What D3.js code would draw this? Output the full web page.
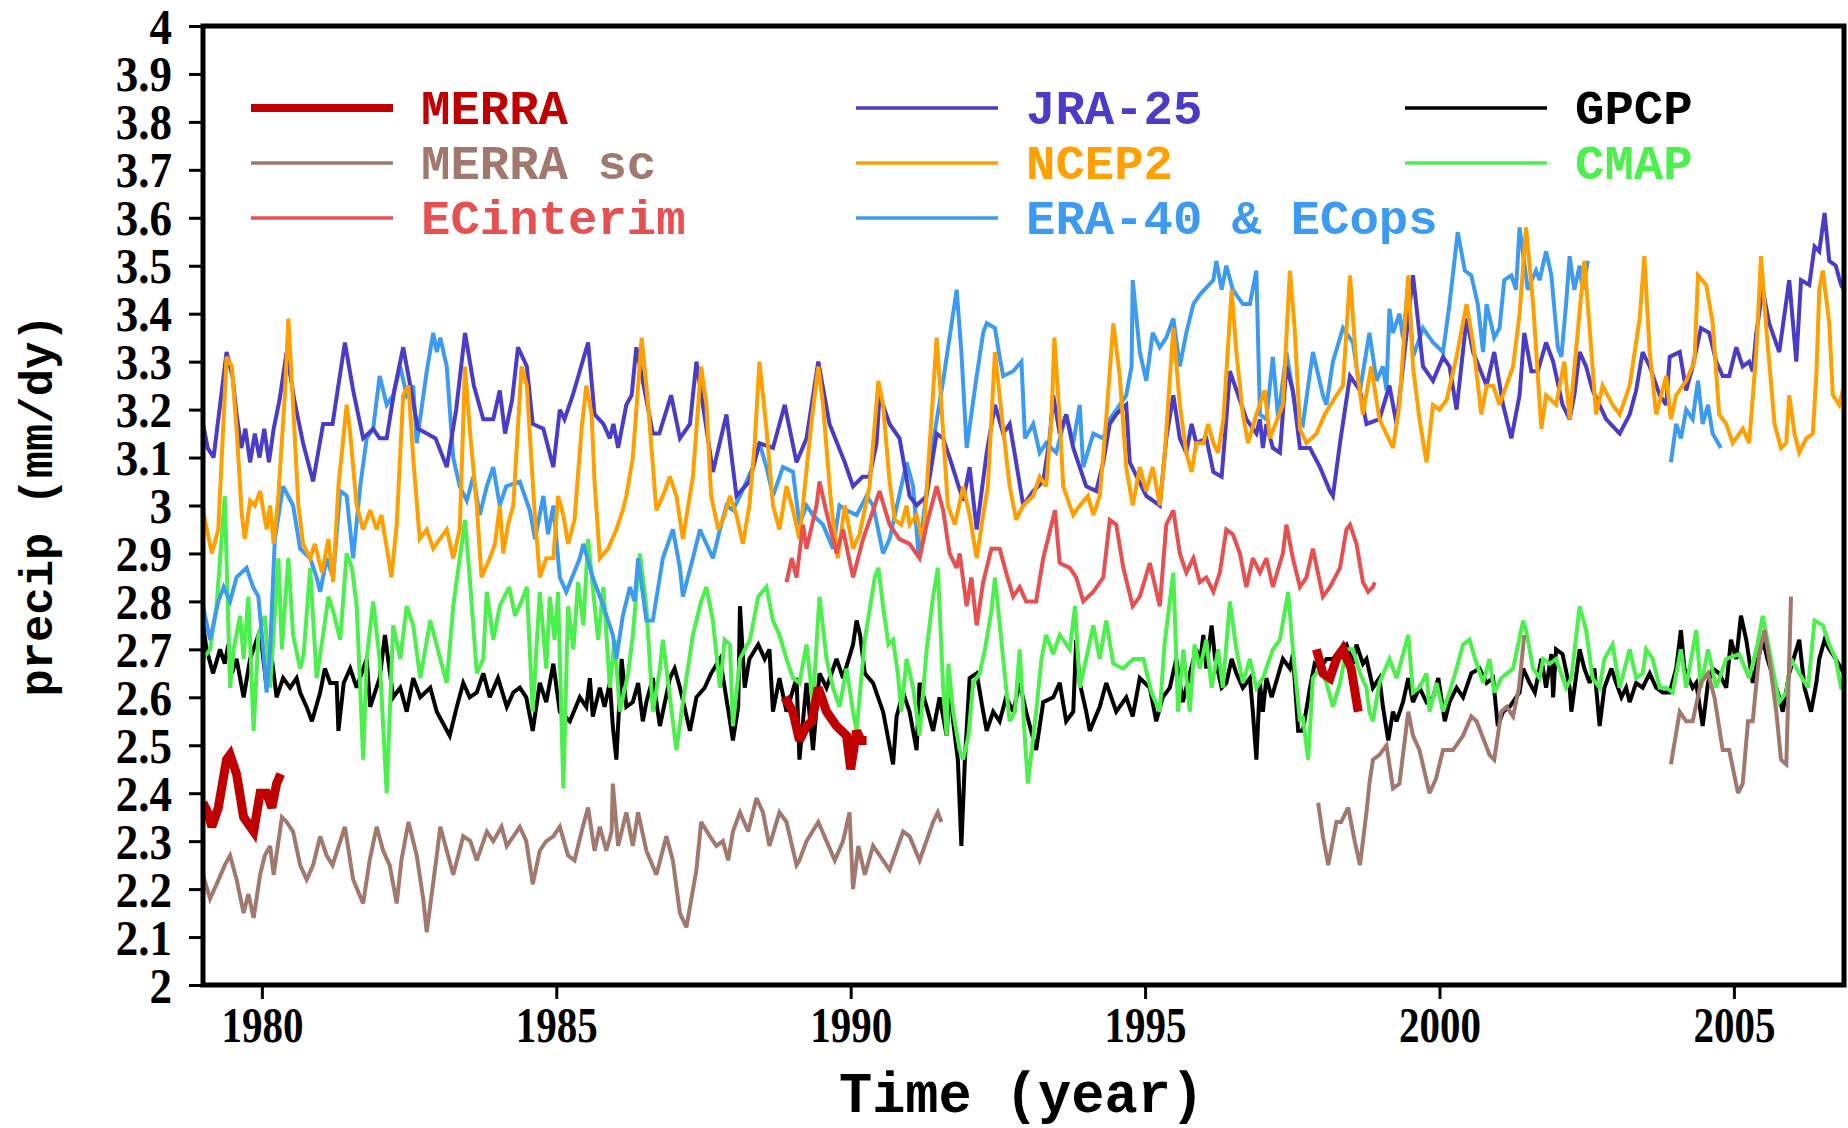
<!DOCTYPE html>
<html>
<head>
<meta charset="utf-8">
<script src="https://cdn.jsdelivr.net/npm/d3@7"></script>
<style>
  body { margin: 0; background: #fff; }
  svg { display: block; }
</style>
</head>
<body>
<div id="chart"></div>
<script>
// monthly global precip series, [year, mm/day]; null value = gap between segments
var merra = [[1979.00,2.38],[1979.08,2.36],[1979.15,2.33],[1979.26,2.37],[1979.40,2.47],[1979.46,2.48],[1979.57,2.44],[1979.69,2.35],[1979.86,2.32],[1979.97,2.40],[1980.08,2.40],[1980.17,2.37],[1980.25,2.42],[1980.32,2.44],
  [1984,null],
  [1988.88,2.60],[1989.02,2.57],[1989.13,2.51],[1989.25,2.54],[1989.34,2.55],[1989.45,2.62],[1989.59,2.57],[1989.76,2.54],[1989.93,2.52],[1990.00,2.45],[1990.10,2.53],[1990.18,2.51],[1990.27,2.51],
  [1994,null],
  [1997.91,2.70],[1998.02,2.65],[1998.14,2.64],[1998.25,2.68],[1998.36,2.70],[1998.50,2.66],[1998.62,2.57]];

var merraSc = [[1979.00,2.23],[1979.12,2.18],[1979.23,2.21],[1979.37,2.25],[1979.46,2.27],[1979.57,2.22],[1979.69,2.15],[1979.77,2.19],[1979.86,2.14],[1979.97,2.23],[1980.05,2.27],[1980.14,2.29],[1980.20,2.23],[1980.34,2.35],[1980.42,2.34],[1980.53,2.32],[1980.65,2.25],[1980.76,2.22],[1980.87,2.25],[1980.99,2.31],[1981.10,2.27],[1981.20,2.25],[1981.41,2.33],[1981.55,2.22],[1981.72,2.17],[1981.83,2.26],[1981.95,2.33],[1982.06,2.28],[1982.17,2.25],[1982.29,2.17],[1982.37,2.26],[1982.49,2.34],[1982.63,2.27],[1982.74,2.18],[1982.80,2.11],[1982.97,2.27],[1983.03,2.33],[1983.14,2.28],[1983.25,2.23],[1983.42,2.31],[1983.54,2.30],[1983.65,2.26],[1983.82,2.32],[1983.93,2.30],[1984.07,2.33],[1984.16,2.29],[1984.38,2.33],[1984.49,2.30],[1984.60,2.21],[1984.72,2.28],[1984.83,2.30],[1984.95,2.31],[1985.06,2.33],[1985.20,2.27],[1985.31,2.26],[1985.43,2.32],[1985.54,2.37],[1985.65,2.28],[1985.74,2.33],[1985.85,2.28],[1985.94,2.32],[1985.96,2.42],[1986.05,2.29],[1986.19,2.36],[1986.30,2.29],[1986.39,2.36],[1986.53,2.28],[1986.70,2.23],[1986.87,2.31],[1986.98,2.26],[1987.10,2.15],[1987.21,2.12],[1987.38,2.24],[1987.46,2.34],[1987.61,2.31],[1987.72,2.29],[1987.83,2.30],[1987.92,2.26],[1988.00,2.32],[1988.12,2.36],[1988.26,2.32],[1988.40,2.39],[1988.51,2.36],[1988.62,2.29],[1988.79,2.36],[1988.91,2.34],[1989.08,2.25],[1989.13,2.26],[1989.25,2.30],[1989.45,2.34],[1989.59,2.30],[1989.73,2.26],[1989.87,2.30],[1989.98,2.36],[1990.04,2.20],[1990.13,2.29],[1990.24,2.23],[1990.38,2.29],[1990.55,2.26],[1990.66,2.24],[1990.89,2.32],[1991.00,2.31],[1991.17,2.26],[1991.40,2.34],[1991.48,2.36],[1991.54,2.34],
  [1995,null],
  [1997.94,2.38],[1998.02,2.31],[1998.11,2.25],[1998.25,2.34],[1998.33,2.34],[1998.45,2.37],[1998.56,2.30],[1998.65,2.25],[1998.76,2.36],[1998.81,2.42],[1998.87,2.47],[1998.98,2.48],[1999.10,2.50],[1999.21,2.41],[1999.32,2.42],[1999.47,2.57],[1999.55,2.52],[1999.66,2.49],[1999.83,2.40],[1999.94,2.43],[2000.06,2.49],[2000.23,2.49],[2000.40,2.52],[2000.54,2.56],[2000.63,2.55],[2000.85,2.48],[2000.93,2.47],[2001.05,2.57],[2001.14,2.58],[2001.25,2.56],[2001.35,2.62],[2001.44,2.73],
  [2003,null],
  [2003.93,2.46],[2004.08,2.57],[2004.19,2.55],[2004.30,2.55],[2004.44,2.63],[2004.56,2.65],[2004.67,2.60],[2004.81,2.49],[2004.92,2.49],[2005.07,2.40],[2005.15,2.42],[2005.24,2.55],[2005.32,2.55],[2005.43,2.69],[2005.52,2.74],[2005.60,2.68],[2005.72,2.57],[2005.80,2.47],[2005.89,2.46],[2005.97,2.81]];

var ecInterim = [[1988.91,2.84],[1989.00,2.89],[1989.08,2.85],[1989.19,2.96],[1989.25,2.91],[1989.42,3.00],[1989.47,3.05],[1989.58,2.99],[1989.76,2.90],[1989.87,2.95],[1990.04,2.85],[1990.21,2.93],[1990.38,2.99],[1990.49,3.03],[1990.66,2.96],[1990.83,2.93],[1991.00,2.92],[1991.17,2.89],[1991.29,2.96],[1991.46,3.04],[1991.57,2.99],[1991.68,2.90],[1991.80,2.87],[1991.85,2.90],[1991.97,2.79],[1992.05,2.85],[1992.14,2.75],[1992.25,2.84],[1992.39,2.91],[1992.53,2.91],[1992.64,2.86],[1992.76,2.81],[1992.87,2.83],[1992.98,2.80],[1993.15,2.80],[1993.27,2.89],[1993.47,2.99],[1993.55,2.88],[1993.72,2.87],[1993.83,2.85],[1993.95,2.80],[1994.12,2.82],[1994.29,2.85],[1994.40,2.97],[1994.51,2.96],[1994.63,2.87],[1994.79,2.79],[1994.91,2.81],[1995.08,2.88],[1995.25,2.79],[1995.36,2.96],[1995.48,2.99],[1995.59,2.90],[1995.70,2.86],[1995.82,2.89],[1995.93,2.84],[1996.04,2.85],[1996.16,2.82],[1996.27,2.86],[1996.38,2.95],[1996.49,2.94],[1996.61,2.90],[1996.72,2.83],[1996.83,2.89],[1996.95,2.86],[1997.06,2.89],[1997.17,2.83],[1997.34,2.90],[1997.40,2.96],[1997.51,2.89],[1997.63,2.83],[1997.74,2.85],[1997.85,2.91],[1998.02,2.81],[1998.14,2.83],[1998.31,2.87],[1998.42,2.95],[1998.48,2.96],[1998.59,2.92],[1998.70,2.84],[1998.79,2.82],[1998.87,2.83],[1998.90,2.84]];

var jra25 = [[1979.00,3.17],[1979.08,3.12],[1979.18,3.10],[1979.30,3.22],[1979.40,3.32],[1979.50,3.27],[1979.57,3.19],[1979.65,3.12],[1979.72,3.16],[1979.80,3.09],[1979.88,3.15],[1979.96,3.10],[1980.04,3.16],[1980.12,3.09],[1980.20,3.16],[1980.30,3.22],[1980.42,3.32],[1980.55,3.22],[1980.70,3.13],[1980.87,3.05],[1981.04,3.17],[1981.20,3.17],[1981.41,3.34],[1981.55,3.24],[1981.72,3.14],[1981.89,3.16],[1982.00,3.14],[1982.12,3.14],[1982.25,3.24],[1982.40,3.33],[1982.52,3.25],[1982.65,3.16],[1982.80,3.15],[1982.95,3.14],[1983.14,3.08],[1983.30,3.20],[1983.45,3.36],[1983.60,3.25],[1983.76,3.18],[1983.93,3.18],[1984.04,3.24],[1984.13,3.15],[1984.25,3.22],[1984.35,3.33],[1984.50,3.29],[1984.60,3.17],[1984.78,3.16],[1984.95,3.08],[1985.06,3.20],[1985.14,3.18],[1985.28,3.23],[1985.54,3.34],[1985.65,3.19],[1985.80,3.17],[1985.91,3.14],[1985.97,3.17],[1986.05,3.12],[1986.19,3.21],[1986.28,3.23],[1986.36,3.33],[1986.64,3.15],[1986.75,3.15],[1986.95,3.23],[1987.10,3.14],[1987.27,3.17],[1987.38,3.30],[1987.66,3.07],[1987.89,3.19],[1988.06,3.02],[1988.28,3.05],[1988.45,3.13],[1988.68,3.12],[1988.88,3.21],[1989.08,3.09],[1989.25,3.14],[1989.45,3.30],[1989.64,3.17],[1989.90,3.09],[1990.04,3.04],[1990.20,3.06],[1990.32,3.06],[1990.44,3.13],[1990.49,3.23],[1990.66,3.17],[1990.83,3.14],[1991.00,3.02],[1991.12,3.00],[1991.29,3.02],[1991.46,3.15],[1991.57,3.14],[1991.68,3.10],[1991.91,3.01],[1992.02,3.08],[1992.14,2.95],[1992.31,3.11],[1992.45,3.21],[1992.59,3.15],[1992.70,3.17],[1992.81,3.09],[1992.93,3.00],[1993.10,3.03],[1993.27,3.05],[1993.38,3.14],[1993.44,3.23],[1993.55,3.15],[1993.66,3.19],[1993.78,3.12],[1994.00,3.04],[1994.17,3.03],[1994.29,3.09],[1994.40,3.17],[1994.51,3.19],[1994.68,3.21],[1994.74,3.09],[1995.02,3.02],[1995.25,3.00],[1995.36,3.14],[1995.48,3.23],[1995.59,3.14],[1995.70,3.11],[1995.79,3.17],[1995.87,3.13],[1996.04,3.14],[1996.16,3.07],[1996.30,3.06],[1996.38,3.18],[1996.44,3.28],[1996.61,3.22],[1996.72,3.18],[1996.89,3.15],[1996.95,3.18],[1997.00,3.12],[1997.06,3.17],[1997.17,3.12],[1997.29,3.11],[1997.40,3.29],[1997.51,3.24],[1997.63,3.12],[1997.80,3.12],[1997.97,3.08],[1998.14,3.03],[1998.19,3.02],[1998.31,3.13],[1998.48,3.27],[1998.65,3.24],[1998.76,3.17],[1998.98,3.18],[1999.15,3.25],[1999.27,3.17],[1999.38,3.29],[1999.55,3.48],[1999.72,3.29],[1999.89,3.26],[2000.06,3.31],[2000.17,3.29],[2000.29,3.20],[2000.46,3.39],[2000.57,3.32],[2000.80,3.25],[2000.93,3.32],[2001.08,3.21],[2001.22,3.14],[2001.36,3.23],[2001.44,3.36],[2001.56,3.28],[2001.67,3.28],[2001.81,3.34],[2001.93,3.30],[2002.09,3.21],[2002.21,3.18],[2002.29,3.23],[2002.38,3.32],[2002.49,3.29],[2002.60,3.24],[2002.83,3.18],[2003.06,3.15],[2003.23,3.19],[2003.34,3.24],[2003.45,3.32],[2003.57,3.29],[2003.74,3.23],[2003.85,3.21],[2003.91,3.31],[2004.08,3.32],[2004.19,3.24],[2004.30,3.29],[2004.44,3.37],[2004.58,3.36],[2004.70,3.30],[2004.81,3.27],[2004.92,3.27],[2005.04,3.33],[2005.15,3.29],[2005.26,3.30],[2005.32,3.28],[2005.38,3.36],[2005.49,3.45],[2005.60,3.38],[2005.77,3.32],[2005.94,3.47],[2006.06,3.30],[2006.14,3.47],[2006.28,3.46],[2006.37,3.54],[2006.45,3.53],[2006.54,3.61],[2006.62,3.51],[2006.73,3.50],[2006.82,3.46],[2006.87,3.45]];

var ncep2 = [[1979.00,2.99],[1979.15,2.90],[1979.26,2.95],[1979.40,3.31],[1979.49,3.29],[1979.57,3.16],[1979.66,2.98],[1979.71,2.93],[1979.80,3.01],[1979.88,3.00],[1979.97,3.03],[1980.08,2.95],[1980.14,3.00],[1980.20,2.92],[1980.28,3.02],[1980.39,3.23],[1980.45,3.39],[1980.53,3.21],[1980.62,3.00],[1980.70,2.92],[1980.82,2.89],[1980.90,2.92],[1980.96,2.89],[1981.02,2.86],[1981.13,2.93],[1981.21,2.84],[1981.30,3.04],[1981.44,3.21],[1981.50,3.15],[1981.61,3.00],[1981.72,2.95],[1981.84,2.99],[1981.95,2.95],[1982.03,2.98],[1982.15,2.89],[1982.20,2.85],[1982.29,2.96],[1982.40,3.23],[1982.49,3.25],[1982.57,3.10],[1982.68,2.93],[1982.80,2.95],[1982.91,2.91],[1983.02,2.93],[1983.14,2.95],[1983.25,2.89],[1983.36,2.95],[1983.45,3.29],[1983.53,3.16],[1983.65,3.00],[1983.73,2.85],[1983.87,2.89],[1983.96,2.92],[1984.04,3.00],[1984.10,2.90],[1984.18,2.96],[1984.27,3.00],[1984.41,3.29],[1984.50,3.25],[1984.63,2.99],[1984.72,2.85],[1984.83,2.89],[1984.95,2.89],[1985.03,3.02],[1985.12,2.98],[1985.20,2.92],[1985.31,2.97],[1985.43,3.16],[1985.51,3.25],[1985.60,3.19],[1985.65,3.05],[1985.74,2.89],[1985.88,2.91],[1986.02,2.95],[1986.13,2.99],[1986.19,3.02],[1986.30,3.10],[1986.45,3.35],[1986.56,3.21],[1986.70,2.99],[1986.81,3.02],[1986.93,3.06],[1987.04,3.02],[1987.15,2.93],[1987.32,3.06],[1987.46,3.29],[1987.55,3.21],[1987.63,3.02],[1987.75,2.95],[1987.86,2.98],[1987.95,3.02],[1988.06,2.98],[1988.17,2.92],[1988.28,3.00],[1988.37,3.13],[1988.45,3.30],[1988.57,3.16],[1988.68,3.00],[1988.79,2.95],[1988.91,3.04],[1989.02,2.99],[1989.13,2.93],[1989.33,3.17],[1989.45,3.29],[1989.53,3.21],[1989.67,3.00],[1989.78,2.89],[1989.90,3.00],[1990.04,2.91],[1990.15,2.94],[1990.32,3.04],[1990.47,3.26],[1990.55,3.21],[1990.66,3.05],[1990.75,2.97],[1990.86,2.96],[1990.95,3.00],[1991.00,2.96],[1991.12,2.98],[1991.23,2.92],[1991.37,3.18],[1991.46,3.35],[1991.54,3.21],[1991.65,3.00],[1991.77,2.96],[1991.91,3.04],[1992.02,2.98],[1992.14,2.89],[1992.25,2.98],[1992.33,3.04],[1992.45,3.32],[1992.59,3.16],[1992.70,3.04],[1992.81,2.97],[1992.93,3.00],[1993.10,3.02],[1993.21,3.06],[1993.32,3.04],[1993.41,3.18],[1993.46,3.35],[1993.55,3.18],[1993.61,3.04],[1993.78,2.98],[1993.89,3.00],[1994.03,3.02],[1994.12,2.98],[1994.23,3.02],[1994.34,3.18],[1994.46,3.38],[1994.57,3.27],[1994.68,3.08],[1994.79,3.00],[1994.91,3.08],[1995.02,3.03],[1995.13,3.08],[1995.25,3.00],[1995.33,3.10],[1995.48,3.37],[1995.59,3.21],[1995.70,3.11],[1995.79,3.07],[1995.87,3.13],[1995.99,3.13],[1996.07,3.17],[1996.16,3.13],[1996.24,3.11],[1996.33,3.18],[1996.47,3.45],[1996.55,3.32],[1996.66,3.19],[1996.75,3.13],[1996.89,3.19],[1997.03,3.24],[1997.12,3.14],[1997.34,3.21],[1997.46,3.49],[1997.54,3.37],[1997.63,3.16],[1997.74,3.13],[1997.91,3.15],[1998.05,3.19],[1998.25,3.23],[1998.36,3.25],[1998.48,3.48],[1998.59,3.29],[1998.70,3.19],[1998.84,3.29],[1998.98,3.18],[1999.21,3.12],[1999.32,3.21],[1999.47,3.48],[1999.55,3.29],[1999.66,3.18],[1999.78,3.09],[1999.89,3.21],[2000.00,3.20],[2000.12,3.22],[2000.29,3.31],[2000.46,3.42],[2000.57,3.34],[2000.71,3.19],[2000.80,3.25],[2000.91,3.25],[2001.02,3.21],[2001.25,3.29],[2001.36,3.40],[2001.47,3.58],[2001.59,3.42],[2001.73,3.16],[2001.81,3.23],[2001.98,3.21],[2002.12,3.30],[2002.21,3.18],[2002.46,3.51],[2002.55,3.37],[2002.66,3.19],[2002.77,3.25],[2002.94,3.21],[2003.06,3.19],[2003.23,3.25],[2003.40,3.39],[2003.48,3.52],[2003.57,3.32],[2003.68,3.19],[2003.85,3.27],[2003.93,3.18],[2004.02,3.23],[2004.19,3.26],[2004.33,3.30],[2004.39,3.48],[2004.53,3.46],[2004.64,3.38],[2004.75,3.19],[2004.87,3.17],[2004.98,3.13],[2005.15,3.16],[2005.26,3.13],[2005.38,3.32],[2005.46,3.52],[2005.55,3.37],[2005.69,3.17],[2005.80,3.12],[2005.89,3.13],[2005.94,3.23],[2006.03,3.15],[2006.11,3.11],[2006.23,3.14],[2006.34,3.15],[2006.40,3.27],[2006.45,3.45],[2006.51,3.49],[2006.62,3.38],[2006.68,3.23],[2006.79,3.21],[2006.87,3.25]];

var era40 = [[1979.00,2.79],[1979.12,2.72],[1979.26,2.80],[1979.35,2.83],[1979.46,2.80],[1979.57,2.85],[1979.74,2.87],[1979.85,2.83],[1979.94,2.81],[1980.03,2.69],[1980.08,2.61],[1980.14,2.70],[1980.22,2.93],[1980.36,3.04],[1980.53,3.00],[1980.65,2.91],[1980.82,2.89],[1980.93,2.85],[1980.99,2.82],[1981.10,2.89],[1981.21,2.85],[1981.33,3.03],[1981.44,3.02],[1981.55,2.89],[1981.67,3.04],[1981.78,3.14],[1981.89,3.16],[1982.00,3.27],[1982.12,3.21],[1982.23,3.23],[1982.35,3.29],[1982.46,3.23],[1982.57,3.25],[1982.63,3.13],[1982.80,3.28],[1982.91,3.36],[1982.97,3.32],[1983.03,3.35],[1983.14,3.29],[1983.25,3.10],[1983.36,3.04],[1983.48,3.01],[1983.59,3.06],[1983.70,2.98],[1983.82,3.04],[1983.93,3.08],[1984.04,3.00],[1984.15,3.04],[1984.38,3.05],[1984.55,2.99],[1984.64,2.93],[1984.78,3.02],[1984.86,2.94],[1984.95,3.00],[1985.06,2.85],[1985.17,2.82],[1985.40,2.89],[1985.46,2.92],[1985.62,2.85],[1985.80,2.79],[1985.96,2.73],[1986.02,2.68],[1986.13,2.77],[1986.25,2.83],[1986.33,2.80],[1986.39,2.89],[1986.53,2.76],[1986.64,2.76],[1986.81,2.89],[1986.98,2.95],[1987.10,2.87],[1987.15,2.81],[1987.32,2.89],[1987.44,2.95],[1987.66,2.89],[1987.78,2.95],[1987.89,3.00],[1988.00,2.99],[1988.12,3.02],[1988.34,3.08],[1988.45,3.13],[1988.57,3.08],[1988.68,3.02],[1988.85,3.08],[1989.02,3.07],[1989.13,2.96],[1989.25,3.00],[1989.36,2.98],[1989.53,2.96],[1989.70,2.91],[1989.81,3.00],[1989.93,2.99],[1990.10,2.98],[1990.27,3.02],[1990.38,3.00],[1990.55,2.90],[1990.66,2.93],[1990.95,3.09],[1991.06,3.04],[1991.15,2.90],[1991.23,2.97],[1991.37,3.11],[1991.57,3.26],[1991.80,3.45],[1991.88,3.32],[1991.97,3.12],[1992.14,3.27],[1992.25,3.36],[1992.31,3.38],[1992.45,3.37],[1992.53,3.31],[1992.59,3.27],[1992.76,3.28],[1992.90,3.30],[1992.96,3.14],[1993.10,3.17],[1993.21,3.11],[1993.32,3.13],[1993.49,3.11],[1993.66,3.19],[1993.78,3.13],[1993.89,3.21],[1993.95,3.08],[1994.12,3.15],[1994.29,3.14],[1994.40,3.18],[1994.57,3.21],[1994.68,3.23],[1994.77,3.29],[1994.79,3.47],[1994.91,3.32],[1995.02,3.26],[1995.13,3.36],[1995.25,3.33],[1995.36,3.35],[1995.48,3.39],[1995.59,3.29],[1995.70,3.36],[1995.82,3.42],[1995.93,3.44],[1996.16,3.47],[1996.21,3.51],[1996.30,3.45],[1996.38,3.50],[1996.49,3.45],[1996.66,3.42],[1996.78,3.42],[1996.89,3.49],[1996.95,3.19],[1997.06,3.18],[1997.17,3.31],[1997.26,3.18],[1997.40,3.32],[1997.57,3.19],[1997.68,3.17],[1997.85,3.32],[1998.02,3.23],[1998.08,3.21],[1998.19,3.30],[1998.36,3.37],[1998.53,3.34],[1998.65,3.24],[1998.81,3.36],[1998.93,3.26],[1999.04,3.29],[1999.10,3.24],[1999.15,3.41],[1999.21,3.36],[1999.32,3.40],[1999.38,3.35],[1999.47,3.46],[1999.55,3.31],[1999.72,3.37],[1999.89,3.34],[2000.06,3.32],[2000.17,3.42],[2000.31,3.57],[2000.43,3.49],[2000.54,3.48],[2000.65,3.42],[2000.74,3.32],[2000.80,3.42],[2000.93,3.35],[2001.02,3.37],[2001.10,3.47],[2001.22,3.48],[2001.30,3.45],[2001.36,3.58],[2001.50,3.45],[2001.64,3.49],[2001.70,3.47],[2001.81,3.53],[2001.90,3.48],[2002.01,3.33],[2002.07,3.31],[2002.15,3.42],[2002.21,3.52],[2002.29,3.45],[2002.38,3.50],[2002.43,3.45],[2002.52,3.51],
  [2003,null],
  [2003.93,3.09],[2004.02,3.17],[2004.10,3.14],[2004.19,3.20],[2004.30,3.18],[2004.39,3.26],[2004.47,3.17],[2004.56,3.21],[2004.64,3.15],[2004.78,3.12]];

var gpcp = [[1979.00,2.75],[1979.06,2.70],[1979.17,2.65],[1979.29,2.70],[1979.37,2.67],[1979.43,2.71],[1979.49,2.65],[1979.57,2.68],[1979.69,2.60],[1979.80,2.68],[1979.97,2.74],[1980.08,2.62],[1980.17,2.68],[1980.25,2.60],[1980.36,2.64],[1980.48,2.62],[1980.59,2.64],[1980.65,2.61],[1980.76,2.58],[1980.85,2.55],[1980.99,2.61],[1981.07,2.66],[1981.16,2.63],[1981.27,2.63],[1981.30,2.53],[1981.39,2.63],[1981.50,2.66],[1981.61,2.62],[1981.78,2.68],[1981.84,2.58],[1982.00,2.64],[1982.09,2.73],[1982.23,2.60],[1982.35,2.62],[1982.46,2.57],[1982.57,2.64],[1982.69,2.60],[1982.86,2.62],[1982.97,2.57],[1983.19,2.52],[1983.31,2.58],[1983.42,2.63],[1983.53,2.60],[1983.65,2.61],[1983.76,2.65],[1983.87,2.60],[1984.01,2.64],[1984.16,2.58],[1984.27,2.61],[1984.38,2.62],[1984.49,2.60],[1984.60,2.53],[1984.72,2.63],[1984.83,2.59],[1984.95,2.67],[1985.06,2.57],[1985.23,2.55],[1985.40,2.60],[1985.51,2.58],[1985.57,2.64],[1985.62,2.56],[1985.74,2.62],[1985.82,2.58],[1985.91,2.63],[1985.96,2.54],[1986.02,2.47],[1986.11,2.68],[1986.19,2.58],[1986.30,2.59],[1986.39,2.63],[1986.47,2.55],[1986.53,2.59],[1986.64,2.64],[1986.76,2.54],[1986.93,2.64],[1987.01,2.66],[1987.10,2.62],[1987.27,2.53],[1987.38,2.60],[1987.52,2.62],[1987.63,2.65],[1987.78,2.68],[1987.86,2.62],[1987.95,2.55],[1988.00,2.51],[1988.09,2.58],[1988.12,2.79],[1988.20,2.62],[1988.28,2.68],[1988.43,2.71],[1988.54,2.68],[1988.62,2.70],[1988.68,2.57],[1988.79,2.64],[1988.91,2.57],[1989.08,2.64],[1989.13,2.47],[1989.25,2.63],[1989.36,2.49],[1989.47,2.65],[1989.59,2.62],[1989.76,2.68],[1989.87,2.64],[1990.04,2.71],[1990.10,2.76],[1990.16,2.73],[1990.24,2.65],[1990.38,2.63],[1990.55,2.57],[1990.72,2.46],[1990.78,2.56],[1990.89,2.61],[1991.00,2.57],[1991.12,2.49],[1991.17,2.63],[1991.29,2.58],[1991.40,2.53],[1991.51,2.60],[1991.63,2.52],[1991.68,2.63],[1991.74,2.55],[1991.82,2.47],[1991.88,2.29],[1991.94,2.47],[1992.02,2.64],[1992.14,2.65],[1992.25,2.57],[1992.31,2.53],[1992.42,2.57],[1992.53,2.55],[1992.64,2.60],[1992.76,2.57],[1992.87,2.63],[1992.98,2.57],[1993.15,2.49],[1993.27,2.59],[1993.44,2.60],[1993.55,2.63],[1993.66,2.55],[1993.78,2.57],[1993.83,2.72],[1993.89,2.63],[1994.00,2.57],[1994.06,2.53],[1994.23,2.58],[1994.34,2.63],[1994.51,2.57],[1994.68,2.60],[1994.79,2.56],[1994.91,2.64],[1995.08,2.62],[1995.19,2.55],[1995.30,2.60],[1995.42,2.62],[1995.53,2.68],[1995.64,2.59],[1995.76,2.65],[1995.87,2.70],[1995.93,2.67],[1995.99,2.73],[1996.04,2.66],[1996.13,2.75],[1996.19,2.68],[1996.30,2.62],[1996.38,2.63],[1996.47,2.68],[1996.55,2.65],[1996.66,2.62],[1996.78,2.64],[1996.83,2.57],[1996.89,2.47],[1996.95,2.63],[1997.00,2.57],[1997.06,2.64],[1997.15,2.60],[1997.34,2.68],[1997.46,2.66],[1997.51,2.69],[1997.60,2.53],[1997.68,2.53],[1997.80,2.62],[1997.88,2.67],[1997.97,2.66],[1998.08,2.68],[1998.19,2.68],[1998.31,2.70],[1998.42,2.71],[1998.53,2.67],[1998.59,2.71],[1998.70,2.67],[1998.76,2.68],[1998.87,2.62],[1998.98,2.64],[1999.04,2.58],[1999.13,2.51],[1999.21,2.57],[1999.27,2.55],[1999.38,2.59],[1999.47,2.64],[1999.55,2.59],[1999.66,2.62],[1999.78,2.59],[1999.89,2.60],[1999.98,2.64],[2000.09,2.55],[2000.17,2.59],[2000.29,2.62],[2000.40,2.60],[2000.54,2.65],[2000.68,2.66],[2000.80,2.63],[2000.91,2.64],[2000.99,2.54],[2001.08,2.57],[2001.19,2.58],[2001.36,2.61],[2001.42,2.66],[2001.53,2.63],[2001.62,2.61],[2001.73,2.68],[2001.81,2.62],[2001.90,2.69],[2001.93,2.60],[2001.98,2.70],[2002.09,2.69],[2002.21,2.62],[2002.24,2.57],[2002.38,2.70],[2002.46,2.66],[2002.55,2.63],[2002.63,2.66],[2002.72,2.54],[2002.80,2.62],[2002.92,2.66],[2003.00,2.63],[2003.09,2.60],[2003.17,2.62],[2003.23,2.59],[2003.34,2.63],[2003.45,2.62],[2003.57,2.65],[2003.68,2.62],[2003.79,2.61],[2003.91,2.61],[2004.02,2.66],[2004.10,2.74],[2004.16,2.66],[2004.30,2.62],[2004.36,2.63],[2004.47,2.54],[2004.56,2.63],[2004.64,2.66],[2004.75,2.65],[2004.87,2.62],[2004.95,2.72],[2005.04,2.68],[2005.12,2.77],[2005.21,2.72],[2005.32,2.63],[2005.41,2.68],[2005.49,2.72],[2005.57,2.68],[2005.77,2.60],[2005.83,2.57],[2005.94,2.65],[2006.11,2.72],[2006.20,2.62],[2006.31,2.57],[2006.40,2.63],[2006.45,2.68],[2006.54,2.72],[2006.62,2.70],[2006.73,2.68],[2006.82,2.66],[2006.87,2.65]];

var cmap = [[1979.00,2.68],[1979.12,2.70],[1979.23,2.79],[1979.37,3.02],[1979.46,2.62],[1979.52,2.70],[1979.63,2.77],[1979.69,2.68],[1979.77,2.81],[1979.86,2.53],[1979.94,2.73],[1980.05,2.77],[1980.14,2.62],[1980.28,2.89],[1980.34,2.70],[1980.39,2.79],[1980.45,2.89],[1980.53,2.73],[1980.65,2.66],[1980.71,2.69],[1980.82,2.87],[1980.93,2.64],[1981.04,2.73],[1981.13,2.81],[1981.21,2.78],[1981.33,2.72],[1981.44,2.90],[1981.53,2.87],[1981.61,2.79],[1981.67,2.62],[1981.72,2.47],[1981.78,2.68],[1981.89,2.80],[1982.00,2.68],[1982.12,2.40],[1982.23,2.75],[1982.35,2.68],[1982.46,2.79],[1982.57,2.75],[1982.69,2.64],[1982.86,2.76],[1983.03,2.68],[1983.14,2.63],[1983.25,2.79],[1983.45,2.97],[1983.53,2.85],[1983.65,2.65],[1983.76,2.68],[1983.82,2.82],[1983.93,2.72],[1984.04,2.79],[1984.20,2.83],[1984.30,2.77],[1984.41,2.80],[1984.50,2.83],[1984.60,2.57],[1984.72,2.82],[1984.83,2.66],[1984.89,2.81],[1984.97,2.72],[1985.03,2.82],[1985.12,2.41],[1985.20,2.79],[1985.29,2.70],[1985.37,2.84],[1985.46,2.75],[1985.54,2.93],[1985.62,2.83],[1985.71,2.72],[1985.80,2.83],[1985.91,2.62],[1985.99,2.72],[1986.08,2.57],[1986.22,2.65],[1986.30,2.73],[1986.42,2.90],[1986.53,2.79],[1986.64,2.57],[1986.76,2.66],[1986.81,2.72],[1987.04,2.49],[1987.15,2.59],[1987.32,2.73],[1987.46,2.80],[1987.55,2.83],[1987.66,2.76],[1987.78,2.62],[1987.86,2.72],[1987.95,2.71],[1988.00,2.54],[1988.12,2.68],[1988.29,2.72],[1988.43,2.81],[1988.57,2.83],[1988.68,2.76],[1988.79,2.73],[1988.91,2.68],[1989.02,2.64],[1989.13,2.63],[1989.25,2.71],[1989.36,2.59],[1989.47,2.81],[1989.59,2.68],[1989.70,2.62],[1989.81,2.58],[1989.93,2.66],[1990.04,2.57],[1990.10,2.53],[1990.24,2.72],[1990.41,2.85],[1990.47,2.87],[1990.55,2.79],[1990.64,2.71],[1990.72,2.72],[1990.80,2.65],[1990.86,2.57],[1990.95,2.68],[1991.06,2.62],[1991.17,2.52],[1991.29,2.70],[1991.40,2.81],[1991.48,2.87],[1991.57,2.62],[1991.63,2.52],[1991.66,2.67],[1991.74,2.57],[1991.85,2.49],[1991.91,2.47],[1992.00,2.52],[1992.08,2.63],[1992.19,2.65],[1992.28,2.70],[1992.39,2.78],[1992.45,2.85],[1992.50,2.79],[1992.59,2.68],[1992.64,2.62],[1992.70,2.55],[1992.79,2.57],[1992.87,2.70],[1992.96,2.51],[1993.01,2.42],[1993.15,2.57],[1993.24,2.68],[1993.32,2.73],[1993.44,2.69],[1993.55,2.73],[1993.72,2.70],[1993.81,2.79],[1993.89,2.62],[1994.00,2.68],[1994.12,2.75],[1994.23,2.68],[1994.34,2.76],[1994.46,2.67],[1994.63,2.66],[1994.80,2.68],[1994.97,2.68],[1995.11,2.61],[1995.25,2.57],[1995.33,2.71],[1995.48,2.86],[1995.56,2.57],[1995.65,2.70],[1995.76,2.57],[1995.84,2.71],[1995.93,2.66],[1996.04,2.72],[1996.13,2.62],[1996.24,2.70],[1996.32,2.62],[1996.44,2.80],[1996.55,2.70],[1996.66,2.63],[1996.78,2.68],[1996.89,2.62],[1997.00,2.64],[1997.17,2.70],[1997.29,2.72],[1997.43,2.82],[1997.51,2.70],[1997.63,2.55],[1997.68,2.56],[1997.77,2.47],[1997.85,2.64],[1997.97,2.66],[1998.08,2.63],[1998.19,2.58],[1998.31,2.63],[1998.42,2.70],[1998.53,2.70],[1998.65,2.65],[1998.76,2.62],[1998.81,2.57],[1998.87,2.55],[1998.98,2.63],[1999.15,2.68],[1999.27,2.64],[1999.47,2.73],[1999.55,2.61],[1999.66,2.62],[1999.78,2.65],[1999.83,2.57],[1999.95,2.63],[2000.06,2.57],[2000.17,2.61],[2000.29,2.66],[2000.40,2.71],[2000.51,2.72],[2000.63,2.67],[2000.74,2.63],[2000.85,2.68],[2000.93,2.61],[2001.05,2.64],[2001.25,2.66],[2001.42,2.76],[2001.47,2.74],[2001.59,2.66],[2001.70,2.64],[2001.76,2.68],[2001.87,2.67],[2001.98,2.68],[2002.15,2.62],[2002.24,2.64],[2002.38,2.79],[2002.49,2.74],[2002.60,2.64],[2002.72,2.62],[2002.80,2.68],[2002.94,2.71],[2003.06,2.62],[2003.23,2.70],[2003.34,2.64],[2003.45,2.65],[2003.51,2.70],[2003.62,2.68],[2003.74,2.62],[2003.85,2.62],[2003.96,2.61],[2004.10,2.70],[2004.19,2.62],[2004.36,2.74],[2004.44,2.62],[2004.56,2.70],[2004.70,2.62],[2004.87,2.68],[2005.09,2.69],[2005.26,2.64],[2005.40,2.71],[2005.49,2.77],[2005.60,2.70],[2005.69,2.64],[2005.77,2.59],[2005.89,2.61],[2005.97,2.68],[2006.11,2.65],[2006.26,2.62],[2006.37,2.76],[2006.51,2.75],[2006.62,2.71],[2006.73,2.68],[2006.82,2.62],[2006.87,2.62]];

var yTicks = d3.range(20, 41).map(function(d) { return d / 10; });
var xTicks = [1980, 1985, 1990, 1995, 2000, 2005];

// legend: 3 columns x 3 rows
var legendItems = [
  {name: "MERRA",          color: "#c00000", w: 8,   col: 0, row: 0},
  {name: "MERRA sc",       color: "#a0786e", w: 3.5, col: 0, row: 1},
  {name: "ECinterim",      color: "#e65050", w: 3.5, col: 0, row: 2},
  {name: "JRA-25",         color: "#4b3cc8", w: 3.5, col: 1, row: 0},
  {name: "NCEP2",          color: "#ffa000", w: 3.5, col: 1, row: 1},
  {name: "ERA-40 & ECops", color: "#3c9bf0", w: 3.5, col: 1, row: 2},
  {name: "GPCP",           color: "#000000", w: 3.5, col: 2, row: 0},
  {name: "CMAP",           color: "#4cf04c", w: 3.5, col: 2, row: 1}
];

// drawing order (bottom to top)
var series = [
  {data: gpcp,      color: "#000000", w: 4},
  {data: cmap,      color: "#4cf04c", w: 4},
  {data: era40,     color: "#3c9bf0", w: 4},
  {data: jra25,     color: "#4b3cc8", w: 4},
  {data: ncep2,     color: "#ffa000", w: 4},
  {data: ecInterim, color: "#e65050", w: 4},
  {data: merraSc,   color: "#a0786e", w: 4},
  {data: merra,     color: "#c00000", w: 9}
];

var width = 1848, height = 1128;
var plotLeft = 203, plotRight = 1844, plotTop = 26, plotBottom = 985;

var svg = d3.select("#chart").append("svg")
  .attr("width", width)
  .attr("height", height);

var x = d3.scaleLinear().domain([1979, 2006.87]).range([plotLeft, plotRight]);
var y = d3.scaleLinear().domain([2, 4]).range([plotBottom, plotTop]);

svg.append("clipPath").attr("id", "plotclip")
  .append("rect")
  .attr("x", plotLeft).attr("y", plotTop)
  .attr("width", plotRight - plotLeft).attr("height", plotBottom - plotTop);

var line = d3.line()
  .defined(function(d) { return d[1] != null; })
  .x(function(d) { return x(d[0]); })
  .y(function(d) { return y(d[1]); });

var g = svg.append("g").attr("clip-path", "url(#plotclip)");
series.forEach(function(s) {
  g.append("path")
    .attr("d", line(s.data))
    .attr("fill", "none")
    .attr("stroke", s.color)
    .attr("stroke-width", s.w)
    .attr("stroke-linejoin", "miter")
    .attr("stroke-miterlimit", 3);
});

// axes
var yAxis = svg.append("g")
  .attr("transform", "translate(" + plotLeft + ",0)")
  .call(d3.axisLeft(y).tickValues(yTicks).tickSize(14).tickPadding(17)
    .tickFormat(function(d) { return String(+d.toFixed(1)); }));
var xAxis = svg.append("g")
  .attr("transform", "translate(0," + plotBottom + ")")
  .call(d3.axisBottom(x).tickValues(xTicks).tickSize(14).tickPadding(8)
    .tickFormat(d3.format("d")));

[yAxis, xAxis].forEach(function(a) {
  a.select(".domain").remove();
  a.selectAll(".tick line").attr("stroke", "#000").attr("stroke-width", 3);
  a.selectAll(".tick text")
    .attr("fill", "#000")
    .style("font-family", "'Liberation Serif', 'DejaVu Serif', serif")
    .style("font-weight", "bold")
    .style("font-size", "50px");
});
// narrow the digits a little, like the original's condensed face
yAxis.selectAll(".tick text")
  .attr("x", 0).attr("dy", "0.34em")
  .attr("transform", "translate(-31,0) scale(0.9,1)");
xAxis.selectAll(".tick text")
  .attr("transform", "scale(0.82,1)");

// frame
svg.append("rect")
  .attr("x", plotLeft).attr("y", plotTop)
  .attr("width", plotRight - plotLeft).attr("height", plotBottom - plotTop)
  .attr("fill", "none")
  .attr("stroke", "#000")
  .attr("stroke-width", 5);

// axis titles
svg.append("text")
  .attr("x", (plotLeft + plotRight) / 2 - 2)
  .attr("y", 1112)
  .attr("text-anchor", "middle")
  .attr("textLength", 365)
  .attr("lengthAdjust", "spacingAndGlyphs")
  .style("font-family", "'Liberation Mono', 'DejaVu Sans Mono', monospace")
  .style("font-weight", "bold")
  .style("font-size", "58px")
  .text("Time (year)");

svg.append("text")
  .attr("transform", "translate(52," + (plotTop + plotBottom) / 2 + ") rotate(-90)")
  .attr("text-anchor", "middle")
  .attr("textLength", 382)
  .attr("lengthAdjust", "spacingAndGlyphs")
  .style("font-family", "'Liberation Mono', 'DejaVu Sans Mono', monospace")
  .style("font-weight", "bold")
  .style("font-size", "46px")
  .text("precip (mm/dy)");

// legend
var colX = [251, 856, 1405];
var rowY = [108, 163, 218];
var legend = svg.append("g");
legendItems.forEach(function(d) {
  var lx = colX[d.col], ly = rowY[d.row];
  legend.append("line")
    .attr("x1", lx).attr("x2", lx + 142)
    .attr("y1", ly).attr("y2", ly)
    .attr("stroke", d.color)
    .attr("stroke-width", d.w);
  legend.append("text")
    .attr("x", lx + 170)
    .attr("y", ly + 16)
    .attr("fill", d.color)
    .style("font-family", "'Liberation Mono', 'DejaVu Sans Mono', monospace")
    .style("font-weight", "bold")
    .style("font-size", "49px")
    .style("white-space", "pre")
    .text(d.name);
});
</script>
</body>
</html>
